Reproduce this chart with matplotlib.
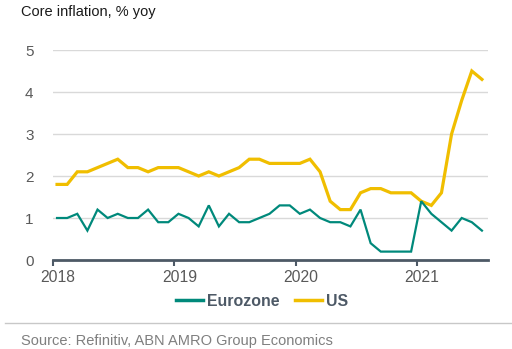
import matplotlib
matplotlib.use("Agg")
import matplotlib.pyplot as plt
import matplotlib.transforms as mtransforms
from matplotlib.lines import Line2D

plt.rcParams['font.family'] = ['Liberation Sans', 'DejaVu Sans']

# Monthly data Jan 2018 - Jul 2021
eurozone = [1.0, 1.0, 1.1, 0.7, 1.2, 1.0, 1.1, 1.0, 1.0, 1.2, 0.9, 0.9,
            1.1, 1.0, 0.8, 1.3, 0.8, 1.1, 0.9, 0.9, 1.0, 1.1, 1.3, 1.3,
            1.1, 1.2, 1.0, 0.9, 0.9, 0.8, 1.2, 0.4, 0.2, 0.2, 0.2, 0.2,
            1.4, 1.1, 0.9, 0.7, 1.0, 0.9, 0.7]
us = [1.8, 1.8, 2.1, 2.1, 2.2, 2.3, 2.4, 2.2, 2.2, 2.1, 2.2, 2.2,
      2.2, 2.1, 2.0, 2.1, 2.0, 2.1, 2.2, 2.4, 2.4, 2.3, 2.3, 2.3,
      2.3, 2.4, 2.1, 1.4, 1.2, 1.2, 1.6, 1.7, 1.7, 1.6, 1.6, 1.6,
      1.4, 1.3, 1.6, 3.0, 3.8, 4.5, 4.3]
start_year = 2018
year_labels = ['2018', '2019', '2020', '2021']
y_ticks = [0, 1, 2, 3, 4, 5]

teal = '#00897b'
gold = '#f0be00'

W, H = 512, 349
fig = plt.figure(figsize=(W / 100, H / 100), dpi=100)
ax = fig.add_axes([53 / W, 1 - 260 / H, (488 - 53) / W, (260 - 50) / H])

x = [start_year + (i + 0.4) / 12 for i in range(len(us))]
ax.plot(x, us, color=gold, lw=2.3, solid_joinstyle='miter', clip_on=False, zorder=3)
ax.plot(x, eurozone, color=teal, lw=1.6, solid_joinstyle='miter', clip_on=False, zorder=4)

ax.set_xlim(start_year, start_year + 43 / 12)
ax.set_ylim(0, 5)
ax.set_yticks(y_ticks)
ax.set_yticklabels([str(v) for v in y_ticks])
ax.set_xticks([start_year + i for i in range(len(year_labels))])
ax.set_xticklabels(year_labels)

ax.grid(axis='y', color='#d9d9d9', lw=1)
ax.set_axisbelow(True)
for s in ['top', 'right', 'left']:
    ax.spines[s].set_visible(False)
ax.spines['bottom'].set_color('#4d5966')
ax.spines['bottom'].set_linewidth(2)
ax.tick_params(axis='y', length=0, pad=14, labelsize=11, labelcolor='#595959')
ax.tick_params(axis='x', length=4, width=1.5, color='#4d5966', pad=3,
               labelsize=11.3, labelcolor='#595959')
offset = mtransforms.ScaledTranslation(5 / 100, 0, fig.dpi_scale_trans)
for lab in ax.get_xticklabels():
    lab.set_transform(lab.get_transform() + offset)

fig.text(21 / W, 1 - 12 / H, 'Core inflation, % yoy', fontsize=10.5,
         color='#1a1a1a', va='center', ha='left')

handles = [Line2D([], [], color=teal, lw=2.5), Line2D([], [], color=gold, lw=2.5)]
leg = fig.legend(handles, ['Eurozone', 'US'], loc='center',
                 bbox_to_anchor=(262 / W, 1 - 301 / H), ncol=2, frameon=False,
                 handlelength=1.75, handletextpad=0.25, columnspacing=0.95,
                 prop={'weight': 'bold', 'size': 11.4})
for t in leg.get_texts():
    t.set_color('#4d5966')

fig.add_artist(Line2D([5 / W, 1], [1 - 323 / H, 1 - 323 / H],
                      transform=fig.transFigure, color='#c8c8c8', lw=1))
fig.text(21 / W, 1 - 341 / H, 'Source: Refinitiv, ABN AMRO Group Economics',
         fontsize=10.5, color='#7f7f7f', va='center', ha='left')

fig.savefig('out.png', dpi=100)
